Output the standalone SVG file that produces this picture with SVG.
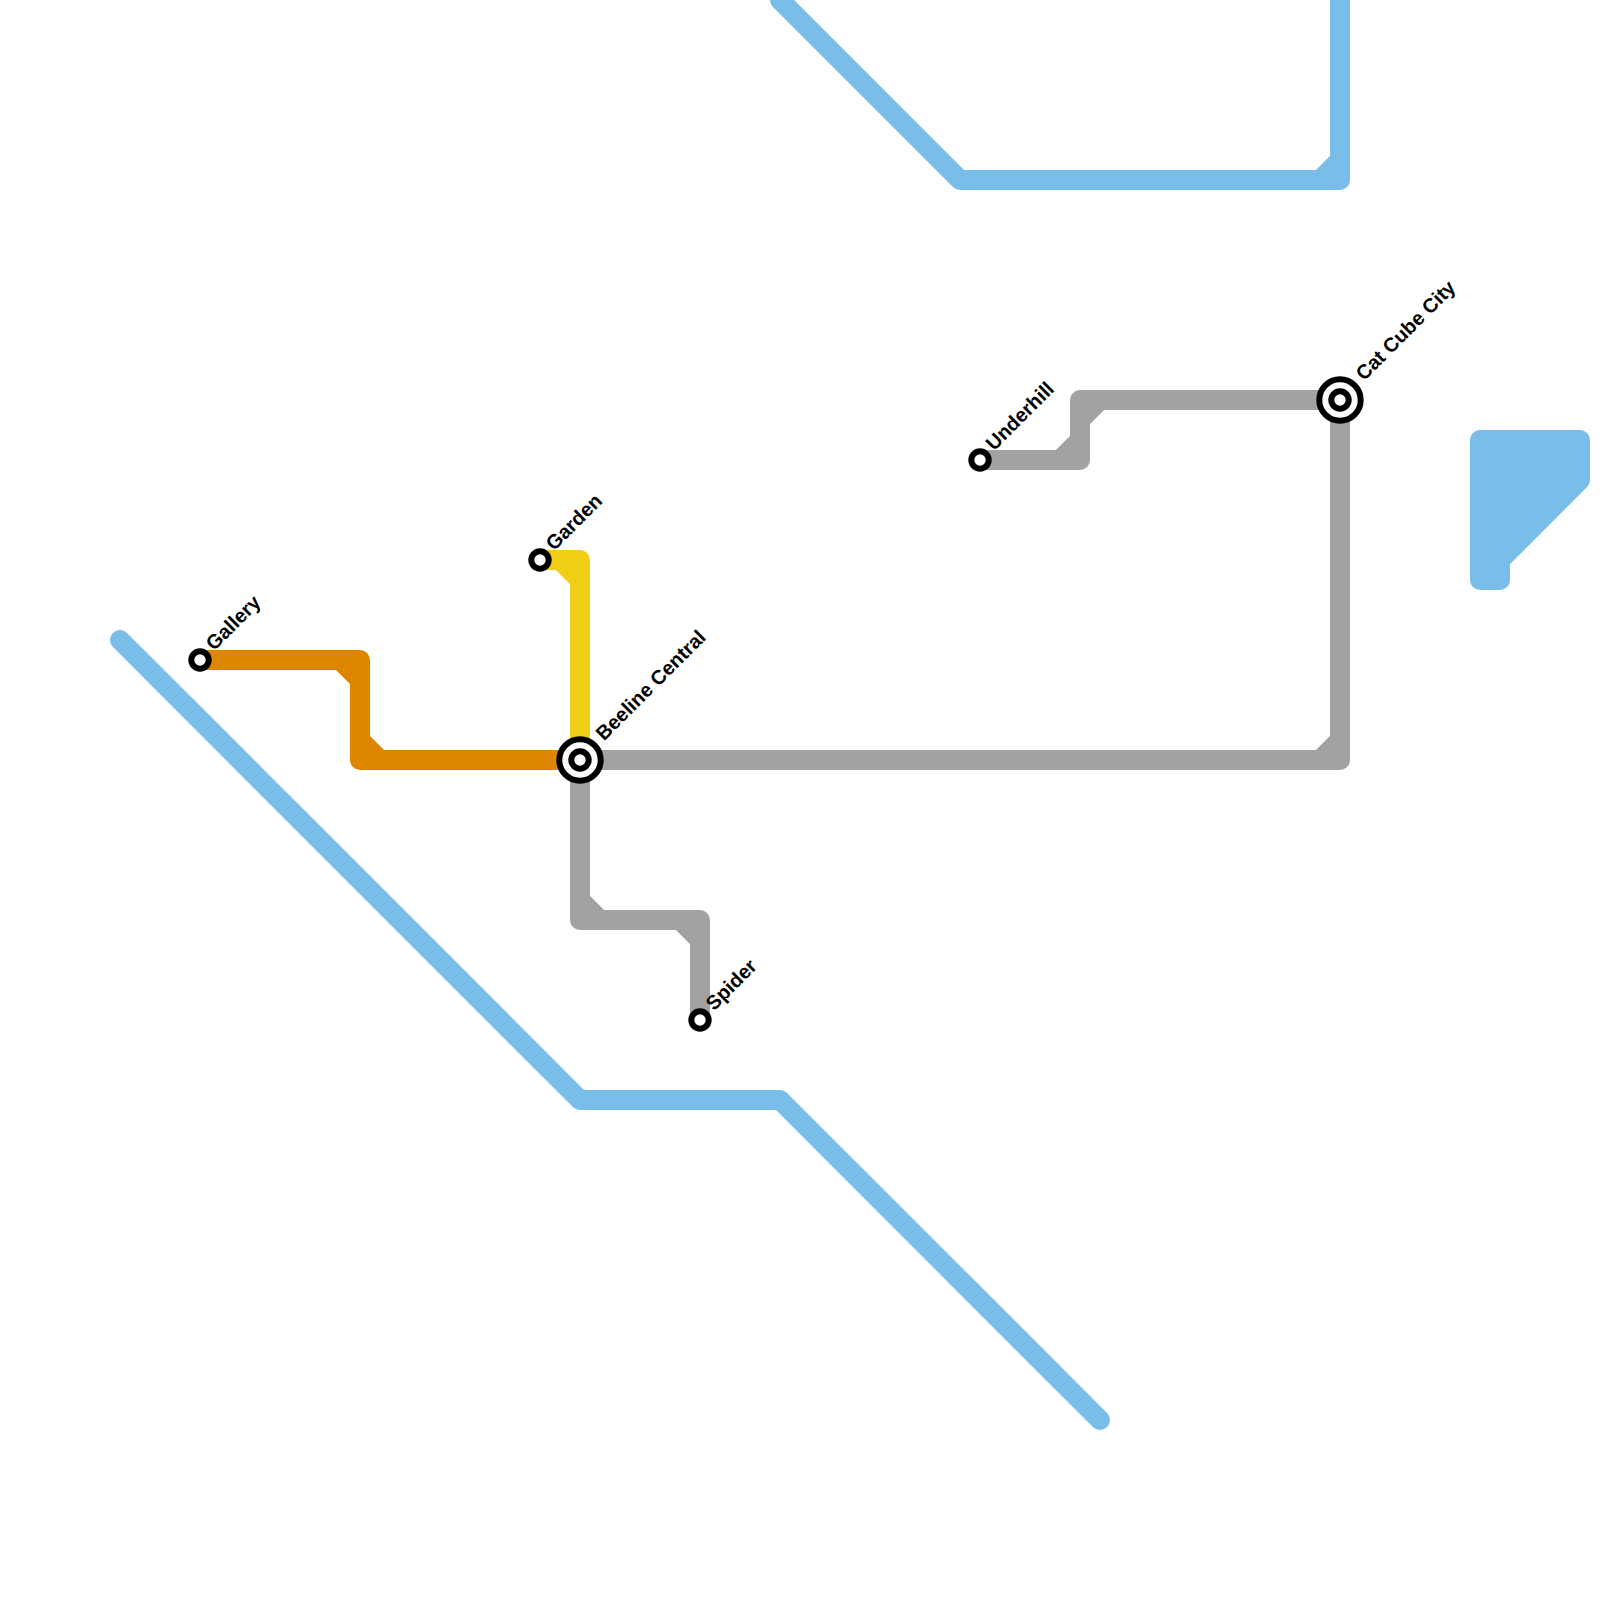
<svg xmlns="http://www.w3.org/2000/svg" width="1600" height="1600" viewBox="0 0 1600 1600">
<style>
.l{fill:none;stroke-width:20;stroke-linejoin:round;stroke-linecap:round}
.b{stroke:#79bde9}.o{stroke:#df8600}.y{stroke:#f0ce15}.g{stroke:#a2a2a2}
.f{fill:#79bde9}
.s{fill:#fff;stroke:#000;stroke-width:6}
text{font-family:"Liberation Sans",Arial,sans-serif;font-size:20px;font-weight:700;fill:#000;text-rendering:geometricPrecision}
</style>
<rect width="1600" height="1600" fill="#fff"/>
<g id="connectors">
<path class="l b" d="M120 640L580 1100H780L1100 1420"/>
<path class="l b" d="M780 0L960 180H1340V0M1320 180L1340 160"/>
<path class="l b f" d="M1480 440H1580V480L1500 560V580H1480Z"/>
<path class="l o" d="M200 660H360V760H580M340 660L360 680M360 740L380 760"/>
<path class="l y" d="M540 560H580V760M560 560L580 580"/>
<path class="l g" d="M580 760H1340V400H1080V460H980M1320 760L1340 740M1080 420L1100 400M1060 460L1080 440"/>
<path class="l g" d="M580 760V920H700V1020M580 900L600 920M680 920L700 940"/>
</g>
<g id="gallery"><circle class="s" cx="200" cy="660" r="8.7"/><text transform="translate(214 651.5) rotate(-45)">Gallery</text></g>
<g id="garden"><circle class="s" cx="540" cy="560" r="8.7"/><text transform="translate(554 551.5) rotate(-45)">Garden</text></g>
<g id="spider"><circle class="s" cx="700" cy="1020" r="8.7"/><text transform="translate(714 1011.5) rotate(-45)">Spider</text></g>
<g id="underhill"><circle class="s" cx="980" cy="460" r="8.7"/><text transform="translate(994 451.5) rotate(-45)">Underhill</text></g>
<g id="beeline-central"><circle class="s" cx="580" cy="760" r="20.7"/><circle class="s" cx="580" cy="760" r="8.7"/><text transform="translate(604 741.5) rotate(-45)">Beeline Central</text></g>
<g id="cat-cube-city"><circle class="s" cx="1340" cy="400" r="20.7"/><circle class="s" cx="1340" cy="400" r="8.7"/><text transform="translate(1364 381.5) rotate(-45)">Cat Cube City</text></g>
</svg>
